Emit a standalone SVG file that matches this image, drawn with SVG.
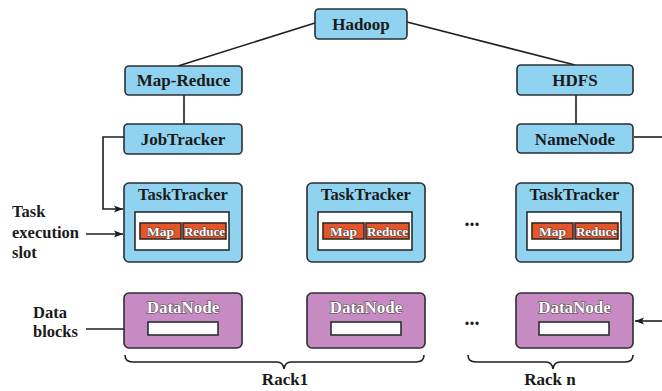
<svg xmlns="http://www.w3.org/2000/svg" width="662" height="391" viewBox="0 0 662 391">
<defs>
<style>
.b{fill:#8fd3f0;stroke:#2b2f33;stroke-width:1.6}
.p{fill:#c78bc3;stroke:#2b2f33;stroke-width:1.6}
.w{fill:#ffffff;stroke:#2b2f33;stroke-width:1.6}
.o{fill:#e4552a;stroke:#3a2a22;stroke-width:1.6}
.t{font-family:"Liberation Serif","Times New Roman",serif;font-weight:bold;fill:#1a1a1a;text-anchor:middle}
.l{font-family:"Liberation Serif","Times New Roman",serif;font-weight:bold;fill:#1a1a1a;font-size:16.5px}
.e{font-family:"Liberation Serif","Times New Roman",serif;font-weight:bold;fill:#ffffff;stroke:#4a4040;stroke-width:1.1;paint-order:stroke;text-anchor:middle}
.c{fill:none;stroke:#1e1e1e;stroke-width:1.6}
</style>
<marker id="ar" markerWidth="10" markerHeight="8" refX="9" refY="4" orient="auto" markerUnits="userSpaceOnUse">
<path d="M0,0.5 L9,4 L0,7.5 L2,4 Z" fill="#1e1e1e"/>
</marker>
</defs>
<g id="connectors">
<path class="c" d="M315,23 L178,66"/>
<path class="c" d="M407,22 L575,65"/>
<path class="c" d="M184,95 L184,124"/>
<path class="c" d="M576,95 L576,124"/>
<path class="c" d="M124,137 L103,137 L103,209 L123,209" marker-end="url(#ar)"/>
<path class="c" d="M86,234 L123,234" marker-end="url(#ar)"/>
<path class="c" d="M86,329 L147,329" marker-end="url(#ar)"/>
<path class="c" d="M634,137 L662,137"/>
<path class="c" d="M662,321 L635,321" marker-end="url(#ar)"/>
<path class="c" d="M125,355 Q125,362 133,362 L277,362 Q283,362 284,369 Q285,362 291,362 L416,362 Q424,362 424,355"/>
<path class="c" d="M468,355 Q468,362 476,362 L546,362 Q552,362 553,369 Q554,362 560,362 L625,362 Q633,362 633,355"/>
</g>
<g id="hadoop"><rect class="b" x="315" y="9" width="92" height="30" rx="4"/><text class="t" x="361" y="30" font-size="17">Hadoop</text></g>
<g id="mapreduce"><rect class="b" x="125" y="66" width="117" height="29" rx="4"/><text class="t" x="183.5" y="86" font-size="17">Map-Reduce</text></g>
<g id="hdfs"><rect class="b" x="517" y="65" width="116" height="30" rx="4"/><text class="t" x="575" y="86" font-size="17">HDFS</text></g>
<g id="jobtracker"><rect class="b" x="124" y="124" width="118" height="30" rx="4"/><text class="t" x="183" y="145" font-size="17">JobTracker</text></g>
<g id="namenode"><rect class="b" x="517" y="124" width="116" height="29" rx="4"/><text class="t" x="575" y="145" font-size="17">NameNode</text></g>
<g id="tasktracker1">
<rect class="b" x="124" y="183" width="118" height="79" rx="5"/><text class="t" x="183" y="200" font-size="16.5">TaskTracker</text>
<rect class="w" x="135" y="212" width="94" height="38"/>
<rect class="o" x="140" y="223" width="41" height="16"/><text class="e" x="160.5" y="236" font-size="13.5">Map</text>
<rect class="o" x="183" y="223" width="43" height="16"/><text class="e" x="204.5" y="236" font-size="13">Reduce</text>
</g>
<g id="tasktracker2">
<rect class="b" x="307" y="183" width="118" height="79" rx="5"/><text class="t" x="366" y="200" font-size="16.5">TaskTracker</text>
<rect class="w" x="318" y="212" width="94" height="38"/>
<rect class="o" x="323" y="223" width="41" height="16"/><text class="e" x="343.5" y="236" font-size="13.5">Map</text>
<rect class="o" x="366" y="223" width="43" height="16"/><text class="e" x="387.5" y="236" font-size="13">Reduce</text>
</g>
<g id="tasktracker3">
<rect class="b" x="516" y="183" width="117" height="79" rx="5"/><text class="t" x="574.5" y="200" font-size="16.5">TaskTracker</text>
<rect class="w" x="527" y="212" width="94" height="38"/>
<rect class="o" x="532" y="223" width="41" height="16"/><text class="e" x="552.5" y="236" font-size="13.5">Map</text>
<rect class="o" x="575" y="223" width="43" height="16"/><text class="e" x="596.5" y="236" font-size="13">Reduce</text>
</g>
<g id="datanode1">
<rect class="p" x="124" y="293" width="118" height="55" rx="5"/><text class="e" x="183" y="313" font-size="17">DataNode</text>
<rect class="w" x="148" y="322" width="70" height="13"/>
</g>
<g id="datanode2">
<rect class="p" x="307" y="293" width="118" height="55" rx="5"/><text class="e" x="366" y="313" font-size="17">DataNode</text>
<rect class="w" x="331" y="322" width="70" height="13"/>
</g>
<g id="datanode3">
<rect class="p" x="516" y="293" width="117" height="55" rx="5"/><text class="e" x="574.5" y="313" font-size="17">DataNode</text>
<rect class="w" x="539" y="322" width="70" height="13"/>
</g>
<g id="labels">
<text class="l" x="12" y="217">Task</text>
<text class="l" x="12" y="238">execution</text>
<text class="l" x="12" y="258">slot</text>
<text class="l" x="33" y="318">Data</text>
<text class="l" x="33" y="337">blocks</text>
<text class="t" x="472" y="226" font-size="20">...</text>
<text class="t" x="472" y="325" font-size="20">...</text>
<text class="t" x="285" y="385" font-size="17">Rack1</text>
<text class="t" x="550" y="385" font-size="17">Rack n</text>
</g>
</svg>
